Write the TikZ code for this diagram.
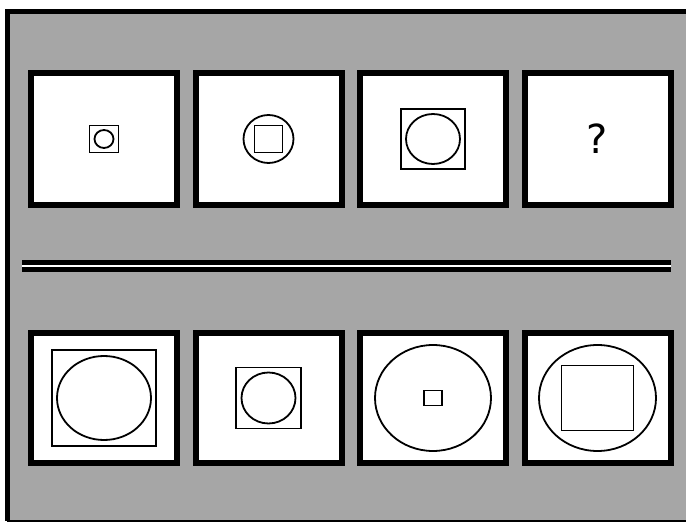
\documentclass[tikz,border=0pt]{standalone}
\usepackage{fontspec}
\newfontfamily\qfont{DejaVu Sans}
\usetikzlibrary{positioning,shapes.geometric}
\definecolor{speckle}{HTML}{A6A6A6}

\begin{document}
\begin{tikzpicture}[x=1pt,y=-1pt,
  panel/.style={draw,line width=6pt,fill=white,minimum width=146pt,minimum height=132pt,inner sep=0pt},
  sq/.style={draw,line width=1.4pt,inner sep=0pt},
  oval/.style={draw,ellipse,line width=1.8pt,inner sep=0pt}
]
\useasboundingbox (0,0) rectangle (686,526);
\fill[speckle] (7,12) rectangle (690,521);
\draw[line width=5pt] (690,12) -- (7,12) -- (7,521);
\draw[line width=2pt] (7,521) -- (690,521);
% question row
\node[panel] (t1) at (104,139) {};
\node[panel,right=12.5pt of t1] (t2) {};
\node[panel,right=12.5pt of t2] (t3) {};
\node[panel,right=12.5pt of t3] (t4) {};
\node[sq,minimum width=29pt,minimum height=27pt] (t1s) at (t1) {};
\node[oval,minimum width=19pt,minimum height=18pt] (t1o) at (t1) {};
\node[oval,minimum width=50pt,minimum height=48pt] (t2o) at (t2) {};
\node[sq,minimum width=28pt,minimum height=27pt] (t2s) at (t2) {};
\node[sq,minimum width=64pt,minimum height=60pt] (t3s) at (t3) {};
\node[oval,minimum width=54pt,minimum height=50pt] (t3o) at (t3) {};
\node[font=\qfont\fontsize{40}{48}\selectfont] (q) at (t4) {?};
% separator
\coordinate (sepL) at (22,266);
\coordinate (sepR) at (671,266);
\draw[line width=4.5pt,double=white,double distance=2.5pt] (sepL) -- (sepR);
% answer row
\node[panel,minimum height=130pt] (b1) at (104,398) {};
\node[panel,minimum height=130pt,right=12.5pt of b1] (b2) {};
\node[panel,minimum height=130pt,right=12.5pt of b2] (b3) {};
\node[panel,minimum height=130pt,right=12.5pt of b3] (b4) {};
\node[sq,minimum width=104pt,minimum height=96pt] (b1s) at (b1) {};
\node[oval,minimum width=94pt,minimum height=84pt] (b1o) at (b1) {};
\node[sq,minimum width=65pt,minimum height=61pt] (b2s) at (b2) {};
\node[oval,minimum width=54pt,minimum height=51pt] (b2o) at (b2) {};
\node[oval,minimum width=116pt,minimum height=106pt] (b3o) at (b3) {};
\node[sq,minimum width=18pt,minimum height=15pt] (b3s) at (b3) {};
\node[oval,minimum width=117pt,minimum height=106pt] (b4o) at (b4) {};
\node[sq,minimum width=72pt,minimum height=65pt] (b4s) at (b4) {};
\end{tikzpicture}
\end{document}
